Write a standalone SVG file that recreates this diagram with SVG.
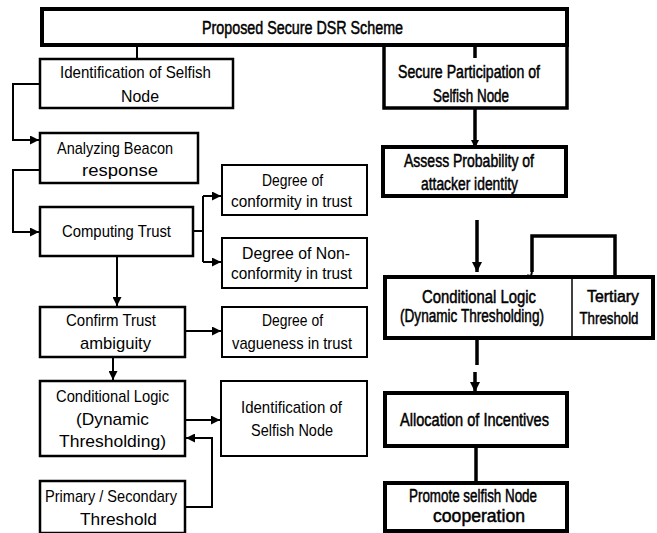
<svg xmlns="http://www.w3.org/2000/svg" width="657" height="533" viewBox="0 0 657 533">
<defs>
<style>
text{font-family:"Liberation Sans",Arial,sans-serif;font-size:17px;fill:#000;text-anchor:middle}
.r{font-size:18px;stroke:#000;stroke-width:0.5}
.s{font-size:17px}
.box{fill:#fff;stroke:#000;stroke-width:2.5}
.thin{fill:#fff;stroke:#000;stroke-width:2}
.thick{fill:#fff;stroke:#000;stroke-width:4}
.c{fill:none;stroke:#000;stroke-width:2}
.ct{fill:none;stroke:#000;stroke-width:3.5}
</style>
<marker id="a" viewBox="0 0 10 10" refX="10" refY="5" markerWidth="10" markerHeight="9" markerUnits="userSpaceOnUse" orient="auto"><path d="M0,0L10,5L0,10z" fill="#000"/></marker>
<marker id="at" viewBox="0 0 10 10" refX="10" refY="5" markerWidth="17" markerHeight="10" markerUnits="userSpaceOnUse" orient="auto"><path d="M0,0L10,5L0,10z" fill="#000"/></marker>
<marker id="as" viewBox="0 0 10 10" refX="10" refY="5" markerWidth="10" markerHeight="8" markerUnits="userSpaceOnUse" orient="auto"><path d="M0,0L10,5L0,10z" fill="#000"/></marker>
</defs>
<rect width="657" height="533" fill="#fff"/>
<g id="connectors">
<path class="c" d="M137,45V59"/>
<path class="c" d="M40,84H13V140H39" marker-end="url(#a)"/>
<path class="c" d="M40,170H13V232H39" marker-end="url(#a)"/>
<path class="c" d="M193,231H203"/>
<path class="c" d="M203,196V262"/>
<path class="c" d="M203,196H221" marker-end="url(#a)"/>
<path class="c" d="M203,262H221" marker-end="url(#a)"/>
<path class="c" d="M117,256V306" marker-end="url(#a)"/>
<path class="c" d="M185,331H221" marker-end="url(#a)"/>
<path class="c" d="M113,357V380" marker-end="url(#a)"/>
<path class="c" d="M185,420H220" marker-end="url(#a)"/>
<path class="c" d="M185,507H212V438H186" marker-end="url(#a)"/>
<path class="ct" d="M475,45V58"/>
<path class="ct" d="M475,108V148" marker-end="url(#as)"/>
<path class="ct" d="M477,220V272" marker-end="url(#at)"/>
<path class="ct" d="M615,277V236H532V272"/>
<path class="c" d="M532,272L529,283" marker-end="url(#as)"/>
<path class="ct" d="M477,338V365"/>
<path class="ct" d="M475,372V392" marker-end="url(#at)"/>
<path class="ct" d="M476,446V483"/>
</g>
<g id="title"><rect class="thick" x="42" y="9" width="525" height="36"/><text x="302.5" y="34" class="r" textLength="201" lengthAdjust="spacingAndGlyphs">Proposed Secure DSR Scheme</text></g>
<g id="ident"><rect class="box" x="40" y="59" width="193" height="49"/><text x="135.5" y="78" textLength="151" lengthAdjust="spacingAndGlyphs">Identification of Selfish</text><text x="140" y="101.5" textLength="38" lengthAdjust="spacingAndGlyphs">Node</text></g>
<g id="beacon"><rect class="box" x="40" y="133" width="158" height="50"/><text x="115" y="154" textLength="116" lengthAdjust="spacingAndGlyphs">Analyzing Beacon</text><text x="120" y="175.5" textLength="76" lengthAdjust="spacingAndGlyphs">response</text></g>
<g id="computing"><rect class="box" x="40" y="207" width="153" height="49"/><text x="116.5" y="237" textLength="109" lengthAdjust="spacingAndGlyphs">Computing Trust</text></g>
<g id="conformity"><rect class="thin" x="222" y="165" width="145" height="50"/><text x="292.5" y="186" textLength="61" lengthAdjust="spacingAndGlyphs">Degree of</text><text x="291.5" y="207" textLength="121" lengthAdjust="spacingAndGlyphs">conformity in trust</text></g>
<g id="nonconformity"><rect class="thin" x="222" y="238" width="145" height="50"/><text x="296" y="259" textLength="108" lengthAdjust="spacingAndGlyphs">Degree of Non-</text><text x="291.5" y="279" textLength="121" lengthAdjust="spacingAndGlyphs">conformity in trust</text></g>
<g id="confirm"><rect class="box" x="40" y="307" width="145" height="50"/><text x="111" y="326" textLength="90" lengthAdjust="spacingAndGlyphs">Confirm Trust</text><text x="115.5" y="349" textLength="71" lengthAdjust="spacingAndGlyphs">ambiguity</text></g>
<g id="vagueness"><rect class="thin" x="222" y="307" width="145" height="50"/><text x="292.5" y="326" textLength="61" lengthAdjust="spacingAndGlyphs">Degree of</text><text x="292" y="349" textLength="120" lengthAdjust="spacingAndGlyphs">vagueness in trust</text></g>
<g id="condleft"><rect class="box" x="40" y="381" width="145" height="75"/><text x="112.5" y="401.5" textLength="113" lengthAdjust="spacingAndGlyphs">Conditional Logic</text><text x="112.5" y="424.5" textLength="73" lengthAdjust="spacingAndGlyphs">(Dynamic</text><text x="112.5" y="447" textLength="107" lengthAdjust="spacingAndGlyphs">Thresholding)</text></g>
<g id="identsel"><rect class="thin" x="221" y="381" width="146" height="75"/><text x="291.5" y="413" textLength="101" lengthAdjust="spacingAndGlyphs">Identification of</text><text x="292" y="436" textLength="82" lengthAdjust="spacingAndGlyphs">Selfish Node</text></g>
<g id="primary"><rect class="box" x="40" y="481" width="145" height="52"/><text x="111" y="501.5" textLength="132" lengthAdjust="spacingAndGlyphs">Primary / Secondary</text><text x="118.5" y="525" textLength="77" lengthAdjust="spacingAndGlyphs">Threshold</text></g>
<g id="secure"><rect class="ct" x="384" y="45" width="183" height="63" fill="#fff"/><text x="469" y="78" class="r" textLength="142" lengthAdjust="spacingAndGlyphs">Secure Participation of</text><text x="471" y="101.5" class="r" textLength="76" lengthAdjust="spacingAndGlyphs">Selfish Node</text></g>
<g id="assess"><rect class="thick" x="383" y="147" width="183" height="49"/><text x="469" y="166.5" class="r" textLength="130" lengthAdjust="spacingAndGlyphs">Assess Probability of</text><text x="469.5" y="189.5" class="r" textLength="97" lengthAdjust="spacingAndGlyphs">attacker identity</text></g>
<g id="condright"><rect class="thick" x="385" y="277" width="268" height="61"/><line x1="572" y1="277" x2="572" y2="338" stroke="#000" stroke-width="1.5"/><text x="479" y="303" class="r" textLength="114" lengthAdjust="spacingAndGlyphs">Conditional Logic</text><text x="472" y="322" class="r" textLength="144" lengthAdjust="spacingAndGlyphs">(Dynamic Thresholding)</text><text x="613" y="302" class="r s" textLength="52" lengthAdjust="spacingAndGlyphs">Tertiary</text><text x="609" y="324" class="r s" textLength="59" lengthAdjust="spacingAndGlyphs">Threshold</text></g>
<g id="alloc"><rect class="thick" x="385" y="393" width="182" height="53"/><text x="474.5" y="426" class="r" textLength="149" lengthAdjust="spacingAndGlyphs">Allocation  of  Incentives</text></g>
<g id="promote"><rect class="thick" x="385" y="483" width="182" height="48"/><text x="473" y="501.5" class="r" textLength="128" lengthAdjust="spacingAndGlyphs">Promote selfish Node</text><text x="479" y="522" class="r" textLength="92" lengthAdjust="spacingAndGlyphs">cooperation</text></g>
</svg>
